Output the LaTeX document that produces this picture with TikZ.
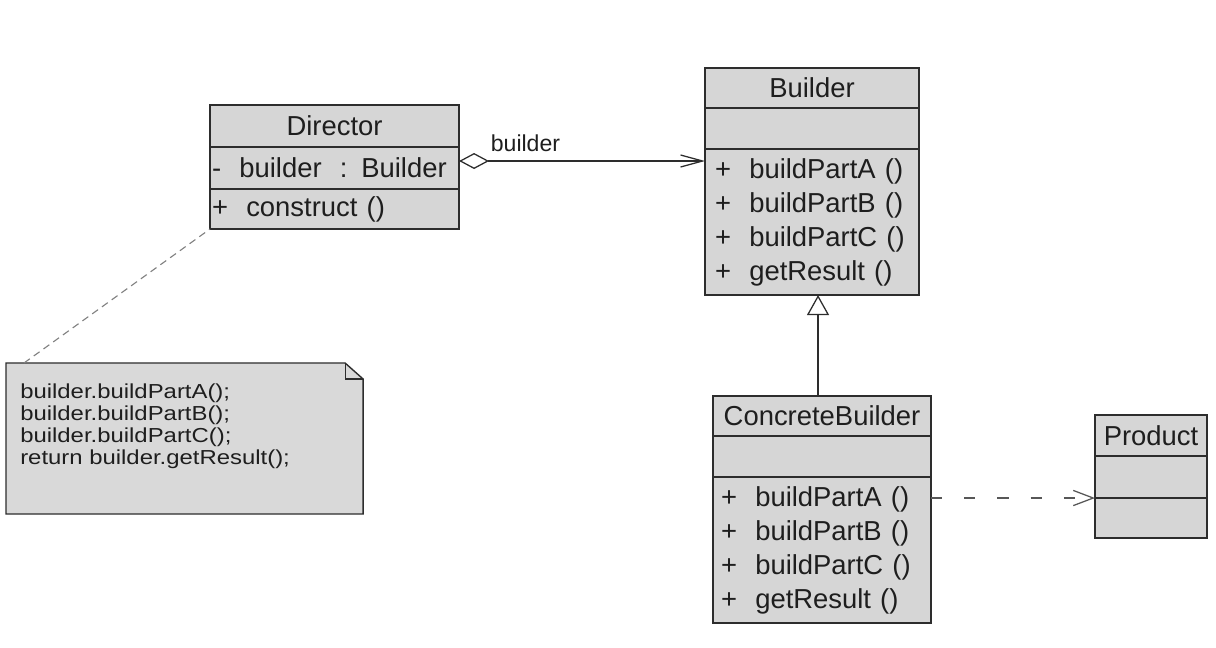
\documentclass[tikz,border=0pt]{standalone}
\usepackage{fontspec}
\setmainfont{Liberation Sans}
\newfontfamily\notefont[FakeStretch=1.18]{Liberation Sans}
\usepackage{tikz}
\usetikzlibrary{positioning, arrows.meta}

\definecolor{boxgray}{RGB}{214,214,214}
\definecolor{notegray}{RGB}{217,217,217}
\definecolor{linegray}{RGB}{45,45,45}
\definecolor{inkgray}{RGB}{30,30,30}

\begin{document}
\begin{tikzpicture}[
    x=0.025cm, y=-0.025cm,
    compart/.style={draw=linegray, line width=1pt, fill=boxgray, text=inkgray, outer sep=0pt, inner xsep=0.2cm, inner ysep=0pt, text width=#1, align=left, font=\fontsize{19.5}{24.2}\selectfont},
    clsname/.style={compart=#1, align=center},
    member/.style={compart=#1},
    aggr/.style={draw=linegray, line width=0.9pt, {Diamond[fill=white, length=0.75cm, width=0.4cm]}-{Straight Barb[length=0.55cm, width=0.3cm]}},
    extends/.style={draw=linegray, line width=0.9pt, -{Triangle[fill=white, length=0.5cm, width=0.55cm]}},
    depends/.style={draw=linegray!80, line width=0.9pt, dash pattern=on 0.28cm off 0.55cm, -{Straight Barb[length=0.5cm, width=0.38cm]}},
    anchorline/.style={draw=linegray!60, line width=0.8pt, dash pattern=on 0.18cm off 0.12cm},
    notebox/.style={minimum width=8.925cm, minimum height=3.775cm, inner sep=0pt, outer sep=0pt},
    notetext/.style={text=inkgray, inner sep=0pt, align=left, font=\notefont\fontsize{14.4}{15.6}\selectfont}
]
\useasboundingbox (0,0) rectangle (1216,648);

% Director
\node[clsname=6.125cm, inner xsep=0.05cm, minimum height=1.05cm, anchor=north west] (dName) at (210,105) {Director};
\node[member=6.125cm, inner xsep=0.05cm, minimum height=1.05cm, below=0pt of dName] (dAttr) {-\ \ builder\ \ : Builder};
\node[member=6.125cm, inner xsep=0.05cm, minimum height=1cm, below=0pt of dAttr] (dOps) {+\ \ construct ()};

% Builder
\node[clsname=4.85cm, inner xsep=0.25cm, minimum height=1cm, anchor=north west] (bName) at (705,68) {Builder};
\node[member=4.85cm, inner xsep=0.25cm, minimum height=1.025cm, below=0pt of bName] (bAttr) {};
\node[member=4.85cm, inner xsep=0.25cm, minimum height=3.65cm, below=0pt of bAttr] (bOps) {+\ \ buildPartA ()\\+\ \ buildPartB ()\\+\ \ buildPartC ()\\+\ \ getResult ()};

% ConcreteBuilder
\node[clsname=5.05cm, minimum height=1cm, anchor=north west] (cbName) at (713,396) {ConcreteBuilder};
\node[member=5.05cm, minimum height=1.025cm, below=0pt of cbName] (cbAttr) {};
\node[member=5.05cm, minimum height=3.65cm, below=0pt of cbAttr] (cbOps) {+\ \ buildPartA ()\\+\ \ buildPartB ()\\+\ \ buildPartC ()\\+\ \ getResult ()};

% Product
\node[clsname=2.7cm, inner xsep=0.05cm, minimum height=1.025cm, anchor=north west] (pName) at (1095,415) {Product};
\node[member=2.7cm, inner xsep=0.05cm, minimum height=1.05cm, below=0pt of pName] (pAttr) {};
\node[member=2.7cm, inner xsep=0.05cm, minimum height=1cm, below=0pt of pAttr] (pOps) {};

% note
\node[notebox, anchor=north west] (note) at (6,363) {};
\filldraw[fill=notegray, draw=linegray, line width=1pt] (note.north west) -- ([xshift=-0.45cm]note.north east) -- ([yshift=-0.4cm]note.north east) -- (note.south east) -- (note.south west) -- cycle;
\draw[linegray, line width=0.8pt] ([xshift=-0.45cm]note.north east) |- ([yshift=-0.4cm]note.north east);
\node[notetext, anchor=north west] (noteText) at (20,384) {builder.buildPartA();\\builder.buildPartB();\\builder.buildPartC();\\return builder.getResult();};

% connectors
\draw[aggr] ([yshift=0.175cm]dAttr.east) -- node[pos=0.27, above, yshift=0.1cm, text=inkgray, font=\fontsize{16.4}{18}\selectfont] (roleName) {builder} ([yshift=0.175cm]dAttr.east -| bOps.west);
\draw[extends] ([xshift=-0.1cm]cbName.north) -- ([xshift=-0.1cm]cbName.north |- bOps.south);
\draw[depends] (pOps.north west -| cbOps.east) -- (pOps.north west);
\draw[anchorline] ([xshift=0.45cm]note.north west) -- (dOps.south west);
\end{tikzpicture}
\end{document}
